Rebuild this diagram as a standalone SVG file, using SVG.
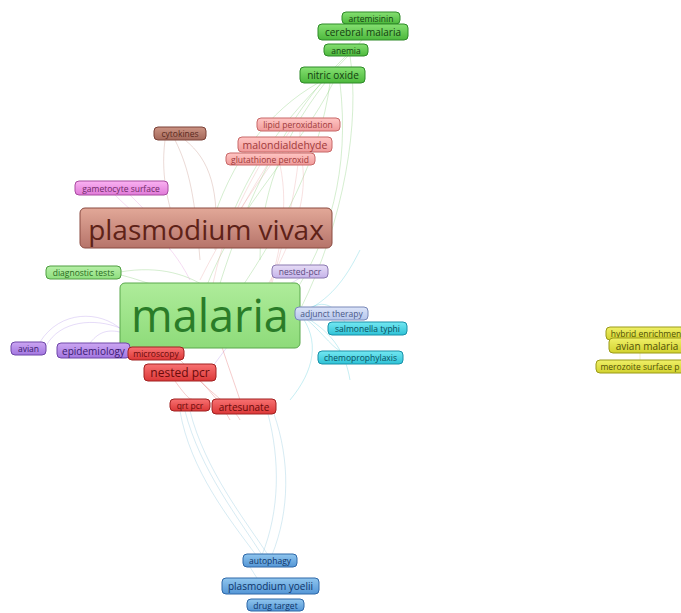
<svg xmlns="http://www.w3.org/2000/svg" width="681" height="613" viewBox="0 0 681 613">
<defs>
<linearGradient id="gGreen" x1="0" y1="0" x2="0" y2="1"><stop offset="0" stop-color="#86e072"/><stop offset="1" stop-color="#4cb83c"/></linearGradient>
<linearGradient id="gMalaria" x1="0" y1="0" x2="0" y2="1"><stop offset="0" stop-color="#aeec9a"/><stop offset="1" stop-color="#8edb7a"/></linearGradient>
<linearGradient id="gLGreen" x1="0" y1="0" x2="0" y2="1"><stop offset="0" stop-color="#b8f0a8"/><stop offset="1" stop-color="#8ede7e"/></linearGradient>
<linearGradient id="gVivax" x1="0" y1="0" x2="0" y2="1"><stop offset="0" stop-color="#e2a898"/><stop offset="1" stop-color="#b6746a"/></linearGradient>
<linearGradient id="gBrown" x1="0" y1="0" x2="0" y2="1"><stop offset="0" stop-color="#cc9484"/><stop offset="1" stop-color="#a4685a"/></linearGradient>
<linearGradient id="gPink" x1="0" y1="0" x2="0" y2="1"><stop offset="0" stop-color="#ffc6c4"/><stop offset="1" stop-color="#f09a9a"/></linearGradient>
<linearGradient id="gMagenta" x1="0" y1="0" x2="0" y2="1"><stop offset="0" stop-color="#fab2f2"/><stop offset="1" stop-color="#e07ad8"/></linearGradient>
<linearGradient id="gLPurple" x1="0" y1="0" x2="0" y2="1"><stop offset="0" stop-color="#e6dcf6"/><stop offset="1" stop-color="#c6b4ea"/></linearGradient>
<linearGradient id="gPurple" x1="0" y1="0" x2="0" y2="1"><stop offset="0" stop-color="#cca6f2"/><stop offset="1" stop-color="#a276e0"/></linearGradient>
<linearGradient id="gRed" x1="0" y1="0" x2="0" y2="1"><stop offset="0" stop-color="#f87272"/><stop offset="1" stop-color="#dc3838"/></linearGradient>
<linearGradient id="gLBlue" x1="0" y1="0" x2="0" y2="1"><stop offset="0" stop-color="#dce4f8"/><stop offset="1" stop-color="#b6c6ec"/></linearGradient>
<linearGradient id="gCyan" x1="0" y1="0" x2="0" y2="1"><stop offset="0" stop-color="#74e8f2"/><stop offset="1" stop-color="#2ec2d6"/></linearGradient>
<linearGradient id="gYellow" x1="0" y1="0" x2="0" y2="1"><stop offset="0" stop-color="#f0f068"/><stop offset="1" stop-color="#d2d22e"/></linearGradient>
<linearGradient id="gBlue" x1="0" y1="0" x2="0" y2="1"><stop offset="0" stop-color="#90c6ee"/><stop offset="1" stop-color="#5496d6"/></linearGradient>
</defs>
<style>
text{font-family:"Open Sans","DejaVu Sans",sans-serif;text-anchor:middle;dominant-baseline:central}
.s{font-size:8.5px}
.m{font-size:10px}
rect{stroke-width:1}
.green rect{fill:url(#gGreen);stroke:#2e8a28}.green text{fill:#133e10}
.malaria rect{fill:url(#gMalaria);stroke:#5aa84c}.malaria text{fill:#2a7c28}
.lgreen rect{fill:url(#gLGreen);stroke:#4e9e40}.lgreen text{fill:#2a6a22}
.vivax rect{fill:url(#gVivax);stroke:#8a4a40}.vivax text{fill:#5e2218}
.brown rect{fill:url(#gBrown);stroke:#7a4036}.brown text{fill:#5a2a20}
.pink rect{fill:url(#gPink);stroke:#c86868}.pink text{fill:#a03a3a}
.magenta rect{fill:url(#gMagenta);stroke:#a84aa0}.magenta text{fill:#702a68}
.lpurple rect{fill:url(#gLPurple);stroke:#8a78b0}.lpurple text{fill:#5a4a80}
.purple rect{fill:url(#gPurple);stroke:#6e46a8}.purple text{fill:#3a1a70}
.red rect{fill:url(#gRed);stroke:#a02020}.red text{fill:#6a0a0a}
.lblue rect{fill:url(#gLBlue);stroke:#7888b8}.lblue text{fill:#4a5888}
.cyan rect{fill:url(#gCyan);stroke:#1890a8}.cyan text{fill:#0a5060}
.yellow rect{fill:url(#gYellow);stroke:#9a9a18}.yellow text{fill:#505008}
.blue rect{fill:url(#gBlue);stroke:#2e68a8}.blue text{fill:#0e3468}
#edges path{fill:none;stroke-width:0.8;stroke-opacity:0.4}
.eg{stroke:#7ac86a}.ep{stroke:#e8a0a0}.eb{stroke:#c08a7e}.em{stroke:#e090d8}.epu{stroke:#b090e8}.ec{stroke:#50c8d8}.ebl{stroke:#80c0d8}.er{stroke:#e06060}.ey{stroke:#c8c850}
</style>
<rect width="681" height="613" fill="#ffffff"/>
<g id="edges">
<path class="eg" d="M333,83 C300,150 240,200 205,290"/>
<path class="eg" d="M330,83 C320,160 280,230 240,290"/>
<path class="eg" d="M340,83 C350,170 330,240 290,300"/>
<path class="eg" d="M346,56 C300,100 250,180 215,300"/>
<path class="eg" d="M350,56 C360,120 345,220 300,310"/>
<path class="eg" d="M362,40 C330,80 270,120 230,220"/>
<path class="eg" d="M318,83 C270,110 230,160 210,230"/>
<path class="eg" d="M325,83 C280,140 260,200 260,260"/>
<path class="eg" d="M120,272 C160,265 190,275 210,290"/>
<path class="eg" d="M121,275 C180,290 250,330 300,330"/>
<path class="ep" d="M290,131 C270,160 250,190 225,240"/>
<path class="ep" d="M300,131 C300,170 290,220 270,290"/>
<path class="ep" d="M280,152 C260,180 230,220 200,280"/>
<path class="ep" d="M300,152 C310,190 300,240 240,330"/>
<path class="ep" d="M260,165 C240,200 220,240 210,300"/>
<path class="ep" d="M280,165 C290,210 280,270 250,340"/>
<path class="eb" d="M175,140 C190,170 195,200 200,260"/>
<path class="eb" d="M185,140 C210,160 220,190 215,250"/>
<path class="eb" d="M165,140 C160,180 170,210 180,240"/>
<path class="em" d="M115,195 C140,220 170,240 190,280"/>
<path class="em" d="M130,195 C150,215 165,230 170,250"/>
<path class="epu" d="M46,346 C60,320 95,318 120,328"/>
<path class="epu" d="M40,342 C60,310 100,310 122,330"/>
<path class="epu" d="M90,343 C100,330 110,330 120,332"/>
<path class="epu" d="M300,278 C260,300 240,330 210,370"/>
<path class="ec" d="M300,314 C330,300 345,280 360,250"/>
<path class="ec" d="M300,314 C330,330 345,350 350,380"/>
<path class="ec" d="M300,314 C320,340 315,370 290,400"/>
<path class="ec" d="M300,314 C320,300 330,300 345,322"/>
<path class="ec" d="M305,318 C320,330 330,345 340,351"/>
<path class="ebl" d="M185,411 C200,470 240,520 262,555"/>
<path class="ebl" d="M190,411 C205,470 245,520 268,555"/>
<path class="ebl" d="M180,411 C190,470 230,520 256,555"/>
<path class="ebl" d="M268,414 C280,460 280,510 262,555"/>
<path class="ebl" d="M274,414 C290,460 290,510 272,555"/>
<path class="ebl" d="M250,567 C255,575 258,580 262,585"/>
<path class="er" d="M180,360 C200,380 220,400 230,420"/>
<path class="er" d="M200,381 C220,400 235,410 240,420"/>
<path class="er" d="M175,381 C185,395 190,400 192,399"/>
<path class="er" d="M205,290 C215,330 230,370 240,400"/>
<path class="ey" d="M640,353 L640,360"/>
</g>
<g id="n-artemisinin" class="green"><rect x="342" y="12" width="58" height="12" rx="4"/><text class="s" x="371" y="18">artemisinin</text></g>
<g id="n-cerebral-malaria" class="green"><rect x="318" y="24" width="90" height="16" rx="4"/><text class="m" x="363" y="32">cerebral malaria</text></g>
<g id="n-anemia" class="green"><rect x="324" y="44" width="44" height="12" rx="4"/><text class="s" x="346" y="50">anemia</text></g>
<g id="n-nitric-oxide" class="green"><rect x="300" y="67" width="65" height="16" rx="4"/><text class="m" x="333" y="75">nitric oxide</text></g>
<g id="n-lipid-peroxidation" class="pink"><rect x="257" y="118" width="83" height="13" rx="4"/><text class="s" x="298" y="124.5">lipid peroxidation</text></g>
<g id="n-cytokines" class="brown"><rect x="154" y="127" width="52" height="13" rx="4"/><text class="s" x="180" y="133.5">cytokines</text></g>
<g id="n-malondialdehyde" class="pink"><rect x="238" y="137" width="94" height="15" rx="4"/><text class="m" x="285" y="144.5" style="font-size:10.5px">malondialdehyde</text></g>
<g id="n-glutathione" class="pink"><rect x="226" y="153" width="89" height="12" rx="4"/><text class="s" x="270" y="159">glutathione peroxid</text></g>
<g id="n-gametocyte" class="magenta"><rect x="75" y="181" width="93" height="14" rx="4"/><text class="s" x="121" y="188">gametocyte surface</text></g>
<g id="n-plasmodium-vivax" class="vivax"><rect x="80" y="208" width="252" height="40" rx="5"/><text x="206" y="229" style="font-size:28px">plasmodium vivax</text></g>
<g id="n-diagnostic-tests" class="lgreen"><rect x="46" y="266" width="75" height="13" rx="4"/><text class="s" x="83.5" y="272.5">diagnostic tests</text></g>
<g id="n-nested-pcr2" class="lpurple"><rect x="272" y="265" width="56" height="13" rx="4"/><text class="s" x="300" y="271.5">nested-pcr</text></g>
<g id="n-malaria" class="malaria"><rect x="120" y="283" width="180" height="65" rx="5"/><text x="210" y="314" style="font-size:45px">malaria</text></g>
<g id="n-adjunct-therapy" class="lblue"><rect x="295" y="307" width="73" height="13" rx="4"/><text class="s" x="331.5" y="313.5">adjunct therapy</text></g>
<g id="n-salmonella" class="cyan"><rect x="328" y="322" width="79" height="13" rx="4"/><text class="s" x="367.5" y="328.5">salmonella typhi</text></g>
<g id="n-chemoprophylaxis" class="cyan"><rect x="318" y="351" width="85" height="13" rx="4"/><text class="s" x="360.5" y="357.5">chemoprophylaxis</text></g>
<g id="n-avian" class="purple"><rect x="11" y="342" width="35" height="13" rx="4"/><text class="s" x="28.5" y="348.5">avian</text></g>
<g id="n-epidemiology" class="purple"><rect x="57" y="343" width="73" height="15" rx="4"/><text class="m" x="93.5" y="350.5">epidemiology</text></g>
<g id="n-microscopy" class="red"><rect x="128" y="347" width="56" height="13" rx="4"/><text class="s" x="156" y="353.5">microscopy</text></g>
<g id="n-nested-pcr" class="red"><rect x="144" y="364" width="72" height="17" rx="4"/><text x="180" y="372.5" style="font-size:12px">nested pcr</text></g>
<g id="n-qrt-pcr" class="red"><rect x="170" y="399" width="40" height="12" rx="4"/><text class="s" x="190" y="405">qrt pcr</text></g>
<g id="n-artesunate" class="red"><rect x="212" y="399" width="64" height="15" rx="4"/><text class="m" x="244" y="406.5">artesunate</text></g>
<g id="n-hybrid" class="yellow"><rect x="606" y="327" width="80" height="13" rx="4"/><text class="s" x="646" y="333.5">hybrid enrichmen</text></g>
<g id="n-avian-malaria" class="yellow"><rect x="609" y="338" width="77" height="15" rx="4"/><text class="m" x="647" y="345.5">avian malaria</text></g>
<g id="n-merozoite" class="yellow"><rect x="596" y="360" width="90" height="13" rx="4"/><text class="s" x="640" y="366.5">merozoite surface p</text></g>
<g id="n-autophagy" class="blue"><rect x="243" y="554" width="54" height="13" rx="4"/><text class="s" x="270" y="560.5">autophagy</text></g>
<g id="n-plasmodium-yoelii" class="blue"><rect x="222" y="578" width="97" height="16" rx="4"/><text class="m" x="270.5" y="586">plasmodium yoelii</text></g>
<g id="n-drug-target" class="blue"><rect x="247" y="599" width="57" height="12" rx="4"/><text class="s" x="275.5" y="605">drug target</text></g>
</svg>
